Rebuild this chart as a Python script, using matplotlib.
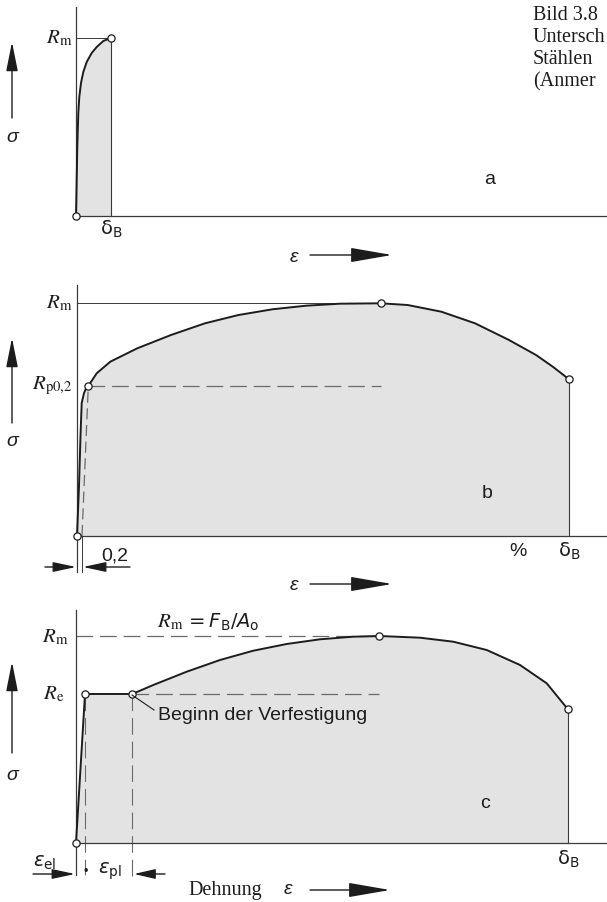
import matplotlib
matplotlib.use('Agg')
import matplotlib.pyplot as plt

plt.rcParams['lines.scale_dashes'] = False
plt.rcParams['font.family'] = ['Liberation Sans', 'DejaVu Sans']

W, H, DPI = 607, 902, 100

# ---------------- data (strain, stress; arbitrary units) ----------------
# (a) brittle steel
a_strain = [0, 0.7, 1.3, 2.3, 3.3, 5, 7.3, 10.7, 15.7, 20.7, 27.3, 34.7]
a_stress = [0, 36, 69, 103, 119, 133, 144, 154, 163, 169, 175, 178]
a_Rm = 178
a_deltaB = 34.7

# (b) steel without distinct yield point
b_strain = [0, 2, 3.5, 4.7, 7, 9, 11.3, 19.7, 33.3, 60.3, 94, 128, 161.6,
            195.4, 229, 263, 303.5, 330.6, 364.3, 398, 432, 459, 475.8, 492]
b_stress = [0, 50, 100, 133, 143, 147.5, 150, 162.7, 174.3, 187.7, 201, 212.7,
            221, 226.7, 230.3, 232.3, 232.7, 231, 224.3, 212.7, 196, 181,
            169.3, 156.7]
b_Rp = 150
b_Rp_strain = 11.3
b_offset = 5
b_Rm = 232.7
b_Rm_strain = 303.5
b_deltaB = 492

# (c) steel with distinct yield point
c_strain = [0, 9, 56.3, 77.3, 110.7, 144, 177.3, 210.7, 244, 277.3, 303.3,
            344, 377.3, 410.7, 444, 470.7, 491.7]
c_stress = [0, 149, 149, 158, 171.3, 183, 192.3, 199, 203.7, 206.3, 207,
            205.3, 201.3, 193, 178, 159.7, 134]
c_Re = 149
c_Re_strain = 9
c_hard_strain = 56.3
c_Rm = 207
c_Rm_strain = 303.3
c_deltaB = 491.7

# panel origins in figure pixels (layout)
origins = {'a': (76, 216), 'b': (77, 536), 'c': (76, 843)}

LINE = '#1c1c1c'
AX = '#3a3a3a'
DASH = '#6a6a6a'
FILL = '#e3e3e3'

fig = plt.figure(figsize=(W / DPI, H / DPI), dpi=DPI)
fig.patch.set_facecolor('white')


def panel(key):
    ox, oy = origins[key]
    ax = fig.add_axes([0, 0, 1, 1])
    ax.set_xlim(-ox, W - ox)
    ax.set_ylim(oy - H, oy)
    ax.set_axis_off()
    return ax


def circles(ax, xs, ys):
    ax.plot(xs, ys, 'o', ms=5.2, mfc='white', mec=LINE, mew=0.9, zorder=6,
            clip_on=False)


# ---------------- panel a ----------------
ax = panel('a')
ax.fill_between(a_strain, a_stress, 0, color=FILL, lw=0, zorder=1)
ax.plot(a_strain, a_stress, color=LINE, lw=1.4, zorder=4)
ax.plot([a_deltaB, a_deltaB], [a_stress[-1], 0], color=AX, lw=0.8, zorder=3)
ax.plot([0, a_deltaB], [a_Rm, a_Rm], color=AX, lw=0.7, zorder=3)
ax.plot([0, 0], [0, 209], color=AX, lw=0.9, zorder=3)
ax.plot([0, 600], [0, 0], color=AX, lw=0.9, zorder=3)
circles(ax, [0, a_deltaB], [0, a_Rm])

# ---------------- panel b ----------------
ax = panel('b')
ax.fill_between(b_strain, b_stress, 0, color=FILL, lw=0, zorder=1)
ax.plot(b_strain, b_stress, color=LINE, lw=1.4, zorder=4)
ax.plot([b_deltaB, b_deltaB], [b_stress[-1], 0], color=AX, lw=0.8, zorder=3)
ax.plot([0, b_Rm_strain], [b_Rm, b_Rm], color=AX, lw=0.7, zorder=3)
ax.plot([b_Rp_strain, b_Rm_strain], [b_Rp, b_Rp], color=DASH, lw=0.9,
        dashes=(12, 5), zorder=3)
ax.plot([b_offset, b_Rp_strain], [0, b_Rp], color=DASH, lw=0.9,
        dashes=(8, 4), zorder=3)
ax.plot([0, 0], [-36, 251], color=AX, lw=0.9, zorder=3)
ax.plot([b_offset, b_offset], [-36, 0], color=AX, lw=0.7, zorder=3)
ax.plot([0, 600], [0, 0], color=AX, lw=0.9, zorder=3)
circles(ax, [0, b_Rp_strain, b_Rm_strain, b_deltaB],
        [0, b_Rp, b_Rm, b_stress[-1]])

# ---------------- panel c ----------------
ax = panel('c')
ax.fill_between(c_strain, c_stress, 0, color=FILL, lw=0, zorder=1)
ax.plot(c_strain, c_stress, color=LINE, lw=1.4, zorder=4)
ax.plot([c_deltaB, c_deltaB], [c_stress[-1], 0], color=AX, lw=0.8, zorder=3)
ax.plot([0, c_Rm_strain], [c_Rm, c_Rm], color=DASH, lw=0.9,
        dashes=(12, 5), zorder=3)
ax.plot([c_hard_strain, c_Rm_strain], [c_Re, c_Re], color=DASH, lw=0.9,
        dashes=(12, 5), zorder=3)
ax.plot([c_Re_strain, c_Re_strain], [c_Re, -32], color=DASH, lw=0.8,
        dashes=(12, 5), zorder=3)
ax.plot([c_hard_strain, c_hard_strain], [c_Re, -34], color=DASH, lw=0.8,
        dashes=(12, 5), zorder=3)
ax.plot([0, 0], [-32, 233], color=AX, lw=0.9, zorder=3)
ax.plot([0, 600], [0, 0], color=AX, lw=0.9, zorder=3)
circles(ax, [0, c_Re_strain, c_hard_strain, c_Rm_strain, c_deltaB],
        [0, c_Re, c_Re, c_Rm, c_stress[-1]])

# ---------------- layout overlay (pixel coordinates) ----------------
lay = fig.add_axes([0, 0, 1, 1])
lay.set_xlim(0, W)
lay.set_ylim(H, 0)
lay.set_axis_off()

SANS = ['Liberation Sans', 'DejaVu Sans']
SERIF = ['Liberation Serif', 'DejaVu Serif']


def arrow(tail, tip, hl=1.8, hw=0.36, lw=1.0):
    lay.annotate('', xy=tip, xytext=tail,
                 arrowprops=dict(arrowstyle=f'-|>,head_length={hl},head_width={hw}',
                                 color=LINE, lw=lw, shrinkA=0, shrinkB=0,
                                 mutation_scale=10))


def t(x, y, s, size=14, family=SANS, ha='center', va='center', **kw):
    lay.text(x, y, s, fontsize=size, family=family, ha=ha, va=va,
             color=LINE, **kw)


# caption (as far as visible at the right border)
for yy, s in [(15, 'Bild 3.8'), (38, 'Untersch'), (60, 'Stählen'),
              (82, '(Anmer')]:
    t(533, yy, s, size=14.5, family=SERIF, ha='left')

# sigma arrows
for tip, tail, sy in [(42, 118, 137), (338, 423, 442), (662, 753, 775)]:
    arrow((12, tail), (12, tip))
    t(12, sy, 'σ', style='italic')

# epsilon arrows
for ey in [255, 584]:
    t(294, ey + 2, 'ε', style='italic')
    arrow((310, ey), (392, ey), hl=2.6, hw=0.45)

# panel a labels
t(72, 38, r'$R_{\mathrm{m}}$', size=15, ha='right', math_fontfamily='stix')
t(111, 229, r'$\mathrm{\delta_B}$', size=14, math_fontfamily='dejavusans')
t(490, 180, 'a')

# panel b labels
t(72, 303, r'$R_{\mathrm{m}}$', size=15, ha='right', math_fontfamily='stix')
t(72, 386, r'$R_{\mathrm{p0{,}2}}$', size=15, ha='right', math_fontfamily='stix')
t(487, 493, 'b')
t(518, 551, '%')
t(569, 551, r'$\mathrm{\delta_B}$', size=14, math_fontfamily='dejavusans')
t(115, 556, '0,2')
arrow((45, 567), (76, 567), hl=1.4, hw=0.3)
arrow((130, 567), (83, 567), hl=1.4, hw=0.3)

# panel c labels
t(68, 637, r'$R_{\mathrm{m}}$', size=15, ha='right', math_fontfamily='stix')
t(64, 694, r'$R_{\mathrm{e}}$', size=15, ha='right', math_fontfamily='stix')
t(157, 622, r'$R_{\mathrm{m}}$', size=15, ha='left', math_fontfamily='stix')
t(185, 622, r'$=F_{\mathrm{B}}/A_{\mathrm{o}}$', size=14, ha='left',
  math_fontfamily='dejavusans')
lay.plot([132, 154], [695, 710], color=LINE, lw=0.8)
t(158, 716, 'Beginn der Verfestigung', ha='left')
t(485, 803, 'c')
t(568, 859, r'$\mathrm{\delta_B}$', size=14, math_fontfamily='dejavusans')
t(45, 863, r'$\varepsilon_{\mathrm{el}}$', size=14, math_fontfamily='dejavusans')
arrow((33, 874), (75, 874), hl=1.4, hw=0.3)
t(86, 872, '•', size=9)
t(110, 871, r'$\varepsilon_{\mathrm{pl}}$', size=14, math_fontfamily='dejavusans')
arrow((165, 874), (134, 874), hl=1.3, hw=0.3)
t(188, 890, 'Dehnung', size=14.5, family=SERIF, ha='left')
t(288, 890, 'ε', style='italic')
arrow((310, 890), (390, 890), hl=2.6, hw=0.45)

fig.savefig('out.png', dpi=DPI)
